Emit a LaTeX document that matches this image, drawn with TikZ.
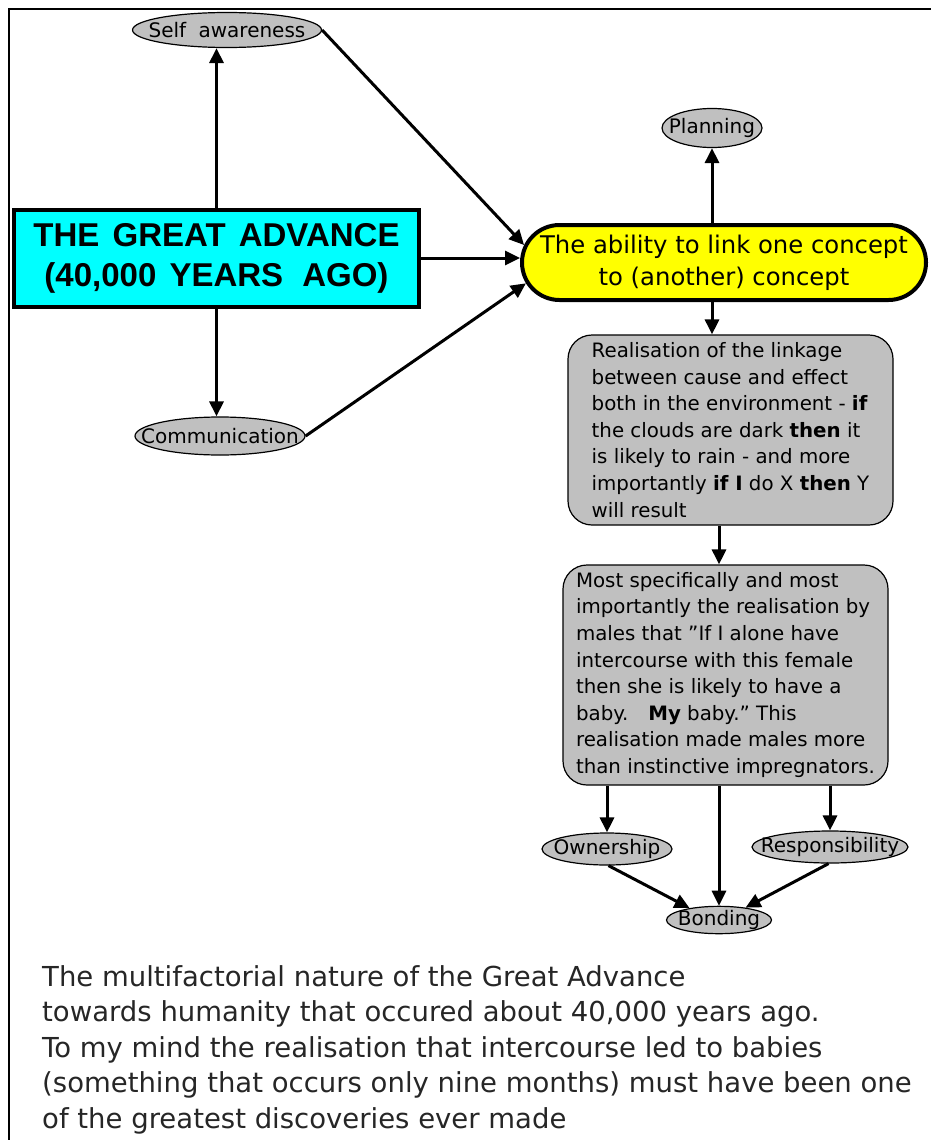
\documentclass[tikz,border=0pt]{standalone}
\usepackage{fontspec}
\setmainfont{DejaVu Sans}
\newfontfamily\titlefont{Liberation Sans}
\usetikzlibrary{shapes.geometric,shapes.misc,arrows.meta}
\definecolor{boxgray}{HTML}{C0C0C0}
\definecolor{cyanbox}{HTML}{00FFFF}
\definecolor{yellowbox}{HTML}{FFFF00}
\newcommand{\zw}[1]{\makebox[0pt]{#1}}
\tikzset{
 ell/.style={ellipse, draw, fill=boxgray, line width=1.2pt, inner sep=0pt, font=\fontsize{20}{24}\selectfont},
 grayrect/.style={rectangle, rounded corners=24pt, draw, fill=boxgray, line width=1.2pt, inner sep=0pt, align=left, font=\fontsize{19.8}{26.6}\selectfont},
 conn/.style={line width=3pt, -{Triangle[length=15pt,width=14pt]}},
}
\begin{document}
\begin{tikzpicture}[x=1pt,y=-1pt]
\useasboundingbox (0,0) rectangle (931,1140);
\draw[line width=2.5pt] (9,1140) -- (9,9) -- (931,9);

\node[ell, minimum width=189pt, minimum height=35pt] (sa) at (227,30) {\zw{Self\hspace{0.3em} awareness}};
\node[ell, minimum width=100pt, minimum height=39pt] (pl) at (712,128) {\zw{Planning}};
\node[ell, minimum width=170pt, minimum height=38pt] (cm) at (220,436) {\zw{Communication}};
\node[ell, minimum width=130pt, minimum height=32pt] (ow) at (607,849) {\zw{Ownership}};
\node[ell, minimum width=156pt, minimum height=32pt] (rs) at (830,847) {\zw{Responsibility}};
\node[ell, minimum width=105pt, minimum height=27pt] (bd) at (719,920) {\zw{Bonding}};

\node[draw, line width=4pt, fill=cyanbox, minimum width=405pt, minimum height=97pt, inner sep=0pt, align=center, font=\titlefont\bfseries\fontsize{33}{40}\selectfont] (gb) at (216.5,258) {\raisebox{0pt}[0pt][0pt]{}THE\hspace{.4em}GREAT\hspace{.4em}ADVANCE\\(40,000\hspace{.4em}YEARS\hspace{.3em} AGO)};

\node[rounded rectangle, draw, line width=4pt, fill=yellowbox, minimum width=404pt, minimum height=75pt, inner sep=0pt, align=center, font=\fontsize{24.3}{32}\selectfont] (yl) at (724,262.5) {The ability to link one concept\\to (another) concept};

\node[grayrect, minimum width=325pt, minimum height=190pt] (r2) at (730.5,430) {Realisation of the linkage\\between cause and effect\\both in the environment - \textbf{if}\\the clouds are dark \textbf{then} it\\is likely to rain - and more\\importantly \textbf{if I} do X \textbf{then} Y\\will result};

\node[grayrect, minimum width=325pt, minimum height=220pt] (r3) at (725.5,675) {Most specifically and most\\importantly the realisation by\\males that "If I alone have\\intercourse with this female\\then she is likely to have a\\baby.\hspace{1em}\textbf{My} baby." This\\realisation made males more\\than instinctive impregnators.};

\node[anchor=north west, align=left, inner sep=0pt, text=black!85, font=\fontsize{27.5}{35.5}\selectfont] (cap) at (42,965) {The multifactorial nature of the Great Advance\\towards humanity that occured about 40,000 years ago.\\To my mind the realisation that intercourse led to babies\\(something that occurs only nine months) must have been one\\of the greatest discoveries ever made};

\draw[conn] (gb.north) -- (gb.north |- sa.south);
\draw[conn] (gb.south) -- (gb.south |- cm.north);
\draw[conn] (sa.east) -- (yl.175);
\draw[conn] (gb.east) -- (gb.east -| yl.west);
\draw[conn] (cm.east) -- (yl.186);
\draw[conn] (pl.south |- yl.north) -- (pl.south);
\draw[conn] (pl.south |- yl.south) -- (pl.south |- r2.north);
\draw[conn] (bd.north |- r2.south) -- (bd.north |- r3.north);
\draw[conn] (ow.north |- r3.south) -- (ow.north);
\draw[conn] (rs.north |- r3.south) -- (rs.north);
\draw[conn] (bd.north |- r3.south) -- (bd.north);
\draw[conn] (ow.-85) -- (bd.158);
\draw[conn] (rs.-95) -- (bd.25);
\end{tikzpicture}
\end{document}
